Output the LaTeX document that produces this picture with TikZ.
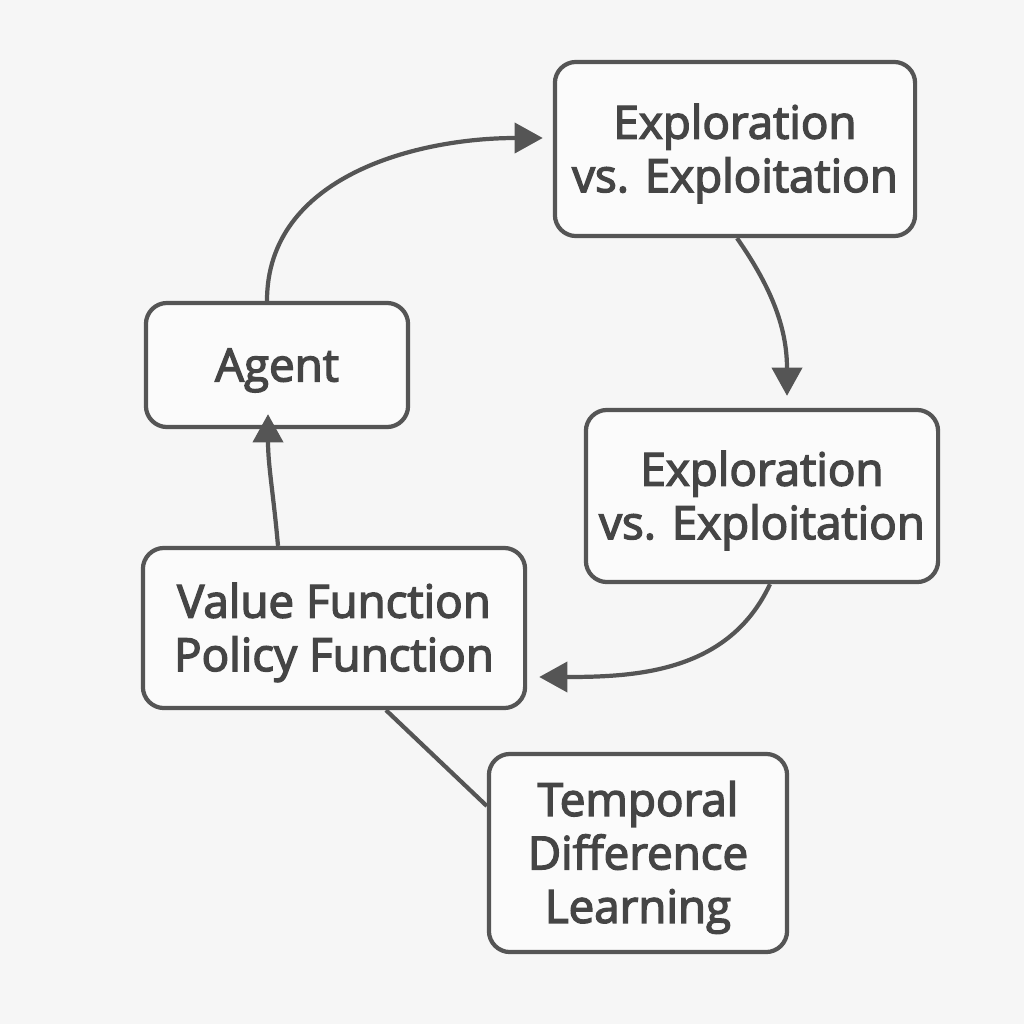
\documentclass[tikz,border=0pt]{standalone}
\usepackage{fontspec}
\setmainfont{Open Sans}
\usetikzlibrary{arrows.meta,calc}
\definecolor{linegray}{HTML}{555555}
\definecolor{textgray}{HTML}{454545}
\definecolor{bggray}{HTML}{F6F6F6}
\tikzset{
  box/.style={draw=linegray,line width=1.2pt,rounded corners=6pt,fill=white!60!bggray,
    align=center,text=textgray,font=\fontsize{13}{15.2}\selectfont,inner sep=0pt,
    text height=9.3pt,text depth=0pt,
    execute at begin node={\special{pdf:literal direct 2 Tr 0.4 w}},
    execute at end node={\special{pdf:literal direct 0 Tr}}},
  twolines/.style={text height=24.5pt},
  threelines/.style={text height=39.7pt},
  flow/.style={draw=linegray,line width=1.2pt,-{Triangle[length=8pt,width=8.5pt]}},
  link/.style={draw=linegray,line width=1.2pt}
}
\begin{document}
\begin{tikzpicture}[x=0.01cm,y=-0.01cm]
\fill [bggray] (0,0) rectangle (1024,1024);
\useasboundingbox (0,0) rectangle (1024,1024);
% boxes
\node [box,twolines,minimum width=3.6cm,minimum height=1.74cm] (explore) at (735,149) {Exploration\\vs. Exploitation};
\node [box,minimum width=2.62cm,minimum height=1.24cm] (agent) at (277,365) {Agent};
\node [box,twolines,minimum width=3.52cm,minimum height=1.72cm] (exploit) at (762,496) {Exploration\\vs. Exploitation};
\node [box,twolines,minimum width=3.82cm,minimum height=1.6cm] (value) at (334,628) {Value Function\\Policy Function};
\node [box,threelines,minimum width=2.98cm,minimum height=1.98cm] (tdl) at (638,853) {Temporal\\Difference\\Learning};
% arrows
\draw [flow] ($(agent.north)+(-10,0)$) to[out=90,in=180] ($(explore.west)+(-10,-11)$);
\draw [flow] ($(explore.south)+(2,0)$) to[out=-55,in=90] ($(exploit.north)+(25,-12)$);
\draw [flow] ($(exploit.south)+(8,0)$) to[out=-115,in=0] ($(value.east)+(12,49)$);
\draw [flow] ($(value.north)+(-56,0)$) to[out=95,in=-90] ($(agent.south)+(-9,-15)$);
\draw [link] ($(value.south)+(52,0)$) -- ($(tdl.west)+(0,-47)$);
\end{tikzpicture}
\end{document}
